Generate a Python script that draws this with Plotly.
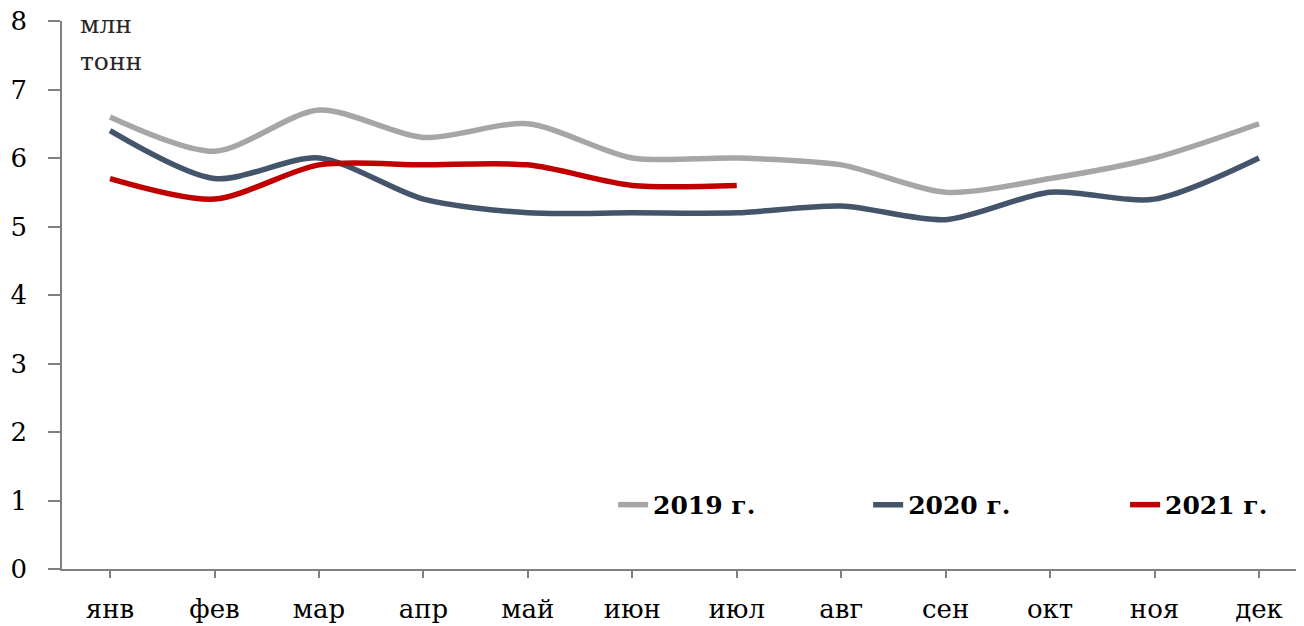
import plotly.graph_objects as go

months = ["янв", "фев", "мар", "апр", "май", "июн", "июл", "авг", "сен", "окт", "ноя", "дек"]
y2019 = [6.6, 6.1, 6.7, 6.3, 6.5, 6.0, 6.0, 5.9, 5.5, 5.7, 6.0, 6.5]
y2020 = [6.4, 5.7, 6.0, 5.4, 5.2, 5.2, 5.2, 5.3, 5.1, 5.5, 5.4, 6.0]
y2021 = [5.7, 5.4, 5.9, 5.9, 5.9, 5.6, 5.6]
series_names = ["2019 г.", "2020 г.", "2021 г."]
colors = ["#A6A6A6", "#44546A", "#C00000"]
unit_lines = ["млн", "тонн"]

FONT = "DejaVu Serif"
legend_ids = ["legend", "legend2", "legend3"]
legend_x = [0.4455, 0.6517, 0.8594]

fig = go.Figure()
for name, ys, c, lid in zip(series_names, [y2019, y2020, y2021], colors, legend_ids):
    fig.add_trace(go.Scatter(
        x=list(range(len(ys))), y=ys, name=name, mode="lines",
        line=dict(color=c, width=5.5, shape="spline", smoothing=0.8),
        legend=lid,
    ))

leg_common = dict(
    orientation="h", yanchor="middle", xanchor="left", y=0.117,
    font=dict(family=FONT, size=25, color="black", weight="bold"),
    bgcolor="rgba(0,0,0,0)",
)
layout_legends = {}
for lid, lx in zip(legend_ids, legend_x):
    layout_legends[lid] = dict(leg_common, x=lx)

fig.update_layout(
    width=1304, height=626,
    paper_bgcolor="white", plot_bgcolor="white",
    margin=dict(l=54, r=13, t=13, b=65, autoexpand=False),
    font=dict(family=FONT, size=26, color="black"),
    showlegend=True,
    xaxis=dict(
        range=[-0.46, 11.383], tickmode="array", tickvals=list(range(12)),
        ticktext=months, showgrid=False, zeroline=False, automargin=False,
        showline=True, linecolor="#808080", linewidth=1.5,
        ticks="outside", ticklen=7, tickcolor="#808080", tickwidth=1.5,
        tickfont=dict(family=FONT, size=26), ticklabelstandoff=9,
        ticklabeloverflow="allow",
    ),
    yaxis=dict(
        range=[0, 8], dtick=1, showgrid=False, zeroline=False, automargin=False,
        showline=True, linecolor="#808080", linewidth=1.5,
        ticks="outside", ticklen=12, tickcolor="#808080", tickwidth=1.5,
        tickfont=dict(family=FONT, size=26), ticklabelstandoff=16,
        ticklabeloverflow="allow",
    ),
    **layout_legends,
)

for i, t in enumerate(unit_lines):
    fig.add_annotation(
        text=t, x=(78 - 62) / 1237, y=(569 - (25 + 37 * i)) / 548,
        xref="paper", yref="paper",
        xanchor="left", yanchor="middle", showarrow=False, align="left",
        font=dict(family=FONT, size=25, color="#262626"),
    )

fig.write_html("out.html")
